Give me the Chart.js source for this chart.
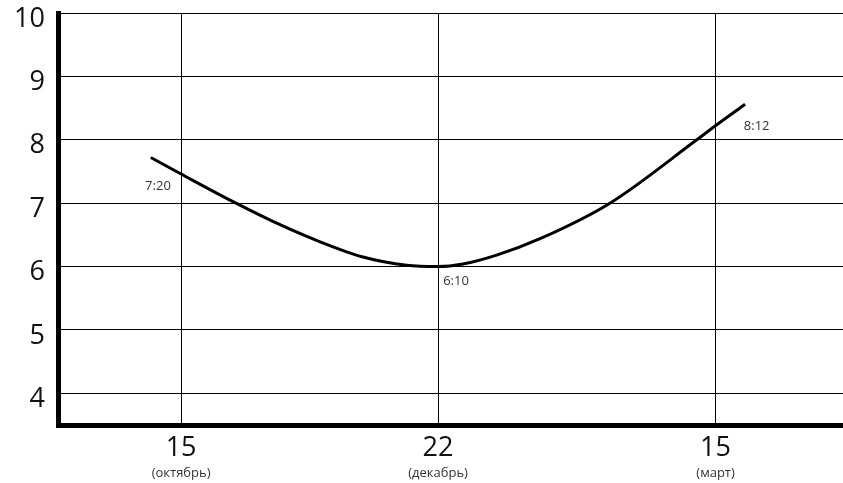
<!DOCTYPE html>
<html>
<head>
<meta charset="utf-8">
<script src="https://cdn.jsdelivr.net/npm/chart.js@4/dist/chart.umd.min.js"></script>
<style>
html,body{margin:0;padding:0;background:#fff;}
#wrap{width:843px;height:483px;position:relative;}
</style>
</head>
<body>
<div id="wrap"><canvas id="c"></canvas></div>
<script>
// Data
const xTickValues = [0, 1, 2.08];
const xTickLabels = ['15', '22', '15'];
const xSubLabels = ['(октябрь)', '(декабрь)', '(март)'];
const yTickValues = [4, 5, 6, 7, 8, 9, 10];

const curveX = [-0.118, 0, 0.204, 0.385, 0.541, 0.708, 0.878, 1.0, 1.097, 1.228, 1.397, 1.669, 2.007, 2.086, 2.195];
const curveY = [7.72, 7.46, 7.02, 6.66, 6.39, 6.15, 6.02, 6.0, 6.04, 6.18, 6.44, 7.0, 8.0, 8.24, 8.56];

const noteX = [-0.09, 1.07, 2.24];
const noteY = [7.27, 5.77, 8.22];
const noteText = ['7:20', '6:10', '8:12'];

const points = curveX.map((x, i) => ({x: x, y: curveY[i]}));

const notesPlugin = {
  id: 'notes',
  afterDraw(chart) {
    const ctx = chart.ctx;
    const xs = chart.scales.x, ys = chart.scales.y;
    ctx.save();
    ctx.fillStyle = '#333';
    ctx.font = '13px "Open Sans", sans-serif';
    ctx.textAlign = 'center';
    ctx.textBaseline = 'middle';
    noteText.forEach((t, i) => {
      ctx.fillText(t, xs.getPixelForValue(noteX[i]), ys.getPixelForValue(noteY[i]));
    });
    // month sub-labels under the x tick labels
    xSubLabels.forEach((t, i) => {
      ctx.fillText(t, xs.getPixelForValue(xTickValues[i]), xs.bottom - 10);
    });
    ctx.restore();
  }
};

new Chart(document.getElementById('c'), {
  type: 'line',
  data: {
    datasets: [{
      data: points,
      borderColor: '#000',
      borderWidth: 3,
      pointRadius: 0,
      fill: false,
      cubicInterpolationMode: 'monotone'
    }]
  },
  options: {
    responsive: true,
    maintainAspectRatio: false,
    animation: false,
    layout: {padding: {top: 13, right: 0, left: 0, bottom: 0}},
    plugins: {legend: {display: false}, tooltip: {enabled: false}},
    scales: {
      x: {
        type: 'linear',
        min: -0.479,
        max: 2.576,
        afterBuildTicks(scale) {
          scale.ticks = xTickValues.map(v => ({value: v}));
        },
        afterFit(scale) { scale.height = 58; scale.paddingLeft = 0; scale.paddingRight = 0; },
        ticks: {
          callback(value, index) { return xTickLabels[index]; },
          color: '#111',
          font: {family: '"Open Sans", sans-serif', size: 27},
          padding: 7,
          maxRotation: 0,
          autoSkip: false
        },
        grid: {color: '#000', lineWidth: 1, drawTicks: false},
        border: {color: '#000', width: 5}
      },
      y: {
        type: 'linear',
        min: 3.5,
        max: 10,
        afterBuildTicks(scale) {
          scale.ticks = yTickValues.map(v => ({value: v}));
        },
        afterFit(scale) { scale.width = 58; scale.paddingTop = 0; scale.paddingBottom = 0; },
        ticks: {
          color: '#111',
          font: {family: '"Open Sans", sans-serif', size: 27},
          padding: 13,
          labelOffset: 6
        },
        grid: {color: '#000', lineWidth: 1, drawTicks: false},
        border: {color: '#000', width: 5}
      }
    }
  },
  plugins: [notesPlugin]
});
</script>
</body>
</html>
